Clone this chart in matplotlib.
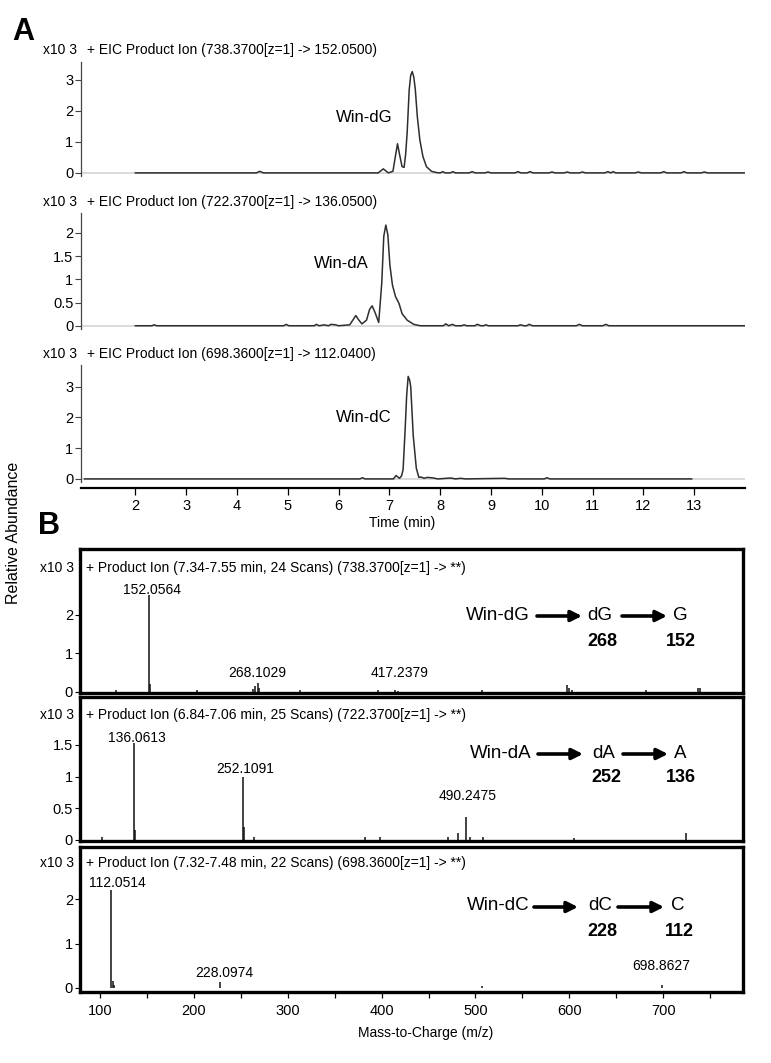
import matplotlib.pyplot as plt
import matplotlib.ticker as ticker

plt.rcParams['font.family'] = ['Liberation Sans', 'DejaVu Sans']

W, H = 771, 1063


def rect(l, t, r, b):
    return [l / W, 1 - b / H, (r - l) / W, (b - t) / H]


def pos(x, y):
    return (x / W, 1 - y / H)


# ---- panel A: extracted ion chromatograms (time in min, abundance x10^3) ----
dg_t = [2.00, 4.38, 4.45, 4.52, 6.78, 6.88, 6.98, 7.07, 7.12, 7.16, 7.20, 7.25,
        7.29, 7.32, 7.35, 7.39, 7.42, 7.45, 7.48, 7.51, 7.55, 7.60, 7.66, 7.73,
        7.83, 7.93, 8.00, 8.05, 8.10, 8.20, 8.25, 8.30, 8.57, 8.63, 8.69, 8.88,
        8.94, 9.00, 9.47, 9.53, 9.59, 9.71, 9.77, 9.83, 10.14, 10.20, 10.26,
        10.44, 10.50, 10.56, 10.74, 10.80, 10.86, 11.24, 11.30, 11.36, 11.40,
        11.46, 11.84, 11.90, 11.96, 12.34, 12.40, 12.46, 12.74, 12.80, 12.86,
        13.14, 13.20, 13.26, 14.00]
dg_y = [0, 0, 0.05, 0, 0, 0.13, 0, 0.05, 0.55, 0.94, 0.60, 0.20,
        0.18, 0.60, 1.30, 2.68, 3.15, 3.27, 3.10, 2.70, 1.82, 1.06, 0.53, 0.20,
        0.05, 0.01, 0, 0.04, 0, 0, 0.04, 0, 0, 0.04, 0, 0,
        0.03, 0, 0, 0.04, 0, 0, 0.04, 0, 0, 0.03, 0,
        0, 0.03, 0, 0, 0.03, 0, 0, 0.04, 0, 0.04,
        0, 0, 0.03, 0, 0, 0.04, 0, 0, 0.04, 0,
        0, 0.03, 0, 0]

da_t = [2.00, 2.32, 2.37, 2.42, 4.92, 4.97, 5.02, 5.52, 5.56, 5.62, 5.72, 5.80,
        5.85, 5.94, 6.00, 6.22, 6.28, 6.34, 6.40, 6.46, 6.55, 6.61, 6.66, 6.72,
        6.79, 6.85, 6.89, 6.93, 6.97, 7.01, 7.06, 7.12, 7.19, 7.25, 7.35, 7.48,
        7.61, 8.06, 8.11, 8.17, 8.24, 8.30, 8.42, 8.47, 8.52, 8.68, 8.73, 8.80,
        8.85, 8.90, 8.95, 9.53, 9.58, 9.65, 9.70, 9.75, 9.82, 10.68, 10.74,
        10.80, 11.20, 11.26, 11.32, 14.00]
da_y = [0, 0, 0.02, 0, 0, 0.03, 0, 0, 0.03, 0, 0.02, 0,
        0.03, 0.02, 0, 0.02, 0.12, 0.22, 0.12, 0.04, 0.12, 0.35, 0.43, 0.28,
        0.07, 0.92, 1.93, 2.17, 1.96, 1.31, 0.88, 0.63, 0.48, 0.26, 0.12, 0.03,
        0, 0, 0.04, 0, 0.03, 0, 0, 0.02, 0, 0, 0.03, 0,
        0, 0.02, 0, 0, 0.02, 0, 0, 0.03, 0, 0, 0.03,
        0, 0, 0.03, 0, 0]

dc_t = [1.00, 6.42, 6.47, 6.52, 7.08, 7.13, 7.20, 7.24, 7.27, 7.31, 7.34, 7.37,
        7.40, 7.42, 7.47, 7.53, 7.58, 7.63, 7.68, 7.75, 7.87, 7.95, 8.21, 8.30,
        8.40, 8.50, 9.27, 9.35, 10.05, 10.10, 10.16, 12.95]
dc_y = [0, 0, 0.04, 0, 0, 0.11, 0.02, 0.10, 0.30, 1.60, 2.70, 3.33,
        3.20, 3.00, 1.40, 0.35, 0.05, 0.06, 0.02, 0.05, 0.03, 0, 0.03, 0,
        0.02, 0, 0.02, 0, 0, 0.04, 0, 0]

# ---- panel B: product ion spectra (m/z, abundance x10^3) ----
dg_mz = [117, 152.06, 153.4, 203, 262.5, 265.5, 268.1, 269.6, 313, 396, 414,
         417.2, 507, 597.5, 599.5, 602.5, 682, 737.2, 738.8]
dg_ab = [0.04, 2.52, 0.20, 0.04, 0.08, 0.14, 0.24, 0.10, 0.05, 0.05, 0.04,
         0.03, 0.06, 0.18, 0.10, 0.05, 0.04, 0.09, 0.10]

da_mz = [102, 136.06, 137.4, 252.11, 253.4, 264, 382, 398, 471, 481, 490.25,
         494, 508, 605, 724]
da_ab = [0.04, 1.53, 0.16, 0.99, 0.20, 0.05, 0.04, 0.04, 0.05, 0.10, 0.36,
         0.05, 0.04, 0.03, 0.11]

dc_mz = [112.05, 113.4, 115.0, 228.1, 507, 698.86]
dc_ab = [2.20, 0.15, 0.06, 0.13, 0.05, 0.06]

eic_titles = ['+ EIC Product Ion (738.3700[z=1] -> 152.0500)',
              '+ EIC Product Ion (722.3700[z=1] -> 136.0500)',
              '+ EIC Product Ion (698.3600[z=1] -> 112.0400)']
eic_names = ['Win-dG', 'Win-dA', 'Win-dC']
ms_titles = ['+ Product Ion (7.34-7.55 min, 24 Scans) (738.3700[z=1] -> **)',
             '+ Product Ion (6.84-7.06 min, 25 Scans) (722.3700[z=1] -> **)',
             '+ Product Ion (7.32-7.48 min, 22 Scans) (698.3600[z=1] -> **)']
peak_labels = [['152.0564', '268.1029', '417.2379'],
               ['136.0613', '252.1091', '490.2475'],
               ['112.0514', '228.0974', '698.8627']]
schemes = [('Win-dG', 'dG', 'G', '268', '152'),
           ('Win-dA', 'dA', 'A', '252', '136'),
           ('Win-dC', 'dC', 'C', '228', '112')]

# layout (pixels of the 771x1063 figure)
a_boxes = [(81, 62, 745, 176), (81, 213, 745, 329), (81, 365, 745, 482)]
a_ylims = [(-0.1, 3.58), (-0.07, 2.43), (-0.1, 3.7)]
a_yticks = [[0, 1, 2, 3], [0, 0.5, 1, 1.5, 2], [0, 1, 2, 3]]
a_title_y = [50, 202, 354]
a_name_pos = [(364, 117), (341, 263), (364, 418)]

b_boxes = [(80, 549, 743, 693), (80, 697, 743, 841), (80, 847, 743, 992)]
b_ylims = [(-0.03, 3.7), (-0.02, 2.26), (-0.09, 3.17)]
b_yticks = [[0, 1, 2], [0, 0.5, 1, 1.5], [0, 1, 2]]
b_title_y = [568, 715, 863]
label_xy = [[(155, 2.65), (267, 0.49), (419, 0.49)],
            [(139, 1.61), (255, 1.12), (492, 0.70)],
            [(119, 2.36), (232, 0.34), (698, 0.49)]]
scheme_y = [(615, 641), (753, 778), (906, 932)]
scheme_x = [(498, 537, 582, 600, 622, 667, 680), (501, 538, 583, 604, 623, 668, 680),
            (498, 534, 578, 600, 618, 664, 678)]

fig = plt.figure(figsize=(7.71, 10.63), dpi=100)

traces = [(dg_t, dg_y), (da_t, da_y), (dc_t, dc_y)]
for i, (t, y) in enumerate(traces):
    ax = fig.add_axes(rect(*a_boxes[i]))
    ax.axhline(0, color='#d4d4d4', lw=1.2, zorder=1)
    ax.plot(t, y, color='#2e2e2e', lw=1.1, zorder=2)
    ax.set_xlim(0.93, 14.0)
    ax.set_ylim(*a_ylims[i])
    ax.set_yticks(a_yticks[i])
    ax.yaxis.set_major_formatter(ticker.FormatStrFormatter('%g'))
    ax.tick_params(axis='y', direction='out', length=4, width=0.8, pad=1.5,
                   labelsize=10.5, color='#444')
    for s in ['top', 'right']:
        ax.spines[s].set_visible(False)
    ax.spines['left'].set_linewidth(0.9)
    ax.spines['left'].set_color('#444')
    if i < 2:
        ax.spines['bottom'].set_visible(False)
        ax.tick_params(axis='x', bottom=False, labelbottom=False)
    else:
        ax.spines['bottom'].set_position(('outward', 4.5))
        ax.spines['bottom'].set_linewidth(1.6)
        ax.set_xticks(range(2, 14))
        ax.tick_params(axis='x', direction='out', length=5, width=0.9,
                       labelsize=10.5, pad=3)
    fig.text(*pos(43, a_title_y[i]), 'x10 3', fontsize=10, va='center')
    fig.text(*pos(87, a_title_y[i]), eic_titles[i], fontsize=10, va='center')
    fig.text(*pos(*a_name_pos[i]), eic_names[i], fontsize=12, ha='center',
             va='center')

fig.text(*pos(402, 523), 'Time (min)', fontsize=10, ha='center', va='center')

spectra = [(dg_mz, dg_ab), (da_mz, da_ab), (dc_mz, dc_ab)]
for i, (mz, ab) in enumerate(spectra):
    ax = fig.add_axes(rect(*b_boxes[i]))
    ax.vlines(mz, 0, ab, colors='#111111', lw=1.1)
    ax.set_xlim(78.7, 785)
    ax.set_ylim(*b_ylims[i])
    ax.set_yticks(b_yticks[i])
    ax.yaxis.set_major_formatter(ticker.FormatStrFormatter('%g'))
    ax.tick_params(axis='y', direction='out', length=3.5, width=0.8, pad=1.5,
                   labelsize=10.5)
    for s in ax.spines.values():
        s.set_linewidth(2.4)
    if i < 2:
        ax.tick_params(axis='x', bottom=False, labelbottom=False)
    else:
        ax.set_xticks(range(100, 800, 100))
        ax.set_xticks(range(150, 800, 100), minor=True)
        ax.tick_params(axis='x', which='both', direction='out', length=4.5,
                       width=0.9, labelsize=10.5, pad=4)
    for lab, (lx, ly) in zip(peak_labels[i], label_xy[i]):
        ax.text(lx, ly, lab, fontsize=10, ha='center', va='center')
    fig.text(*pos(40, b_title_y[i]), 'x10 3', fontsize=10, va='center')
    fig.text(*pos(86, b_title_y[i]), ms_titles[i], fontsize=10, va='center')

    # fragmentation scheme
    name, mid, end, n1, n2 = schemes[i]
    ty, ny = scheme_y[i]
    xn, a1s, a1e, xm, a2s, a2e, xe = scheme_x[i]
    fig.text(*pos(xn, ty), name, fontsize=13.5, ha='center', va='center')
    fig.text(*pos(xm, ty), mid, fontsize=13.5, ha='center', va='center')
    fig.text(*pos(xe, ty), end, fontsize=13.5, ha='center', va='center')
    fig.text(*pos(xm + 2, ny), n1, fontsize=13, ha='center', va='center',
             fontweight='bold')
    fig.text(*pos(xe + 1, ny), n2, fontsize=13, ha='center', va='center',
             fontweight='bold')
    for s0, s1 in [(a1s, a1e), (a2s, a2e)]:
        ax.annotate('', xy=pos(s1, ty + 1), xytext=pos(s0, ty + 1),
                    xycoords='figure fraction', textcoords='figure fraction',
                    arrowprops=dict(arrowstyle='-|>', lw=2.6, color='black',
                                    mutation_scale=16, shrinkA=0, shrinkB=0))

fig.text(*pos(426, 1033), 'Mass-to-Charge (m/z)', fontsize=10, ha='center',
         va='center')
fig.text(*pos(14, 533), 'Relative Abundance', fontsize=11.5, rotation=90,
         ha='center', va='center')
fig.text(*pos(23, 32), 'A', fontsize=22, fontweight='bold', ha='center',
         va='center')
fig.text(*pos(49, 526), 'B', fontsize=22, fontweight='bold', ha='center',
         va='center')

fig.savefig('out.png', dpi=100)
